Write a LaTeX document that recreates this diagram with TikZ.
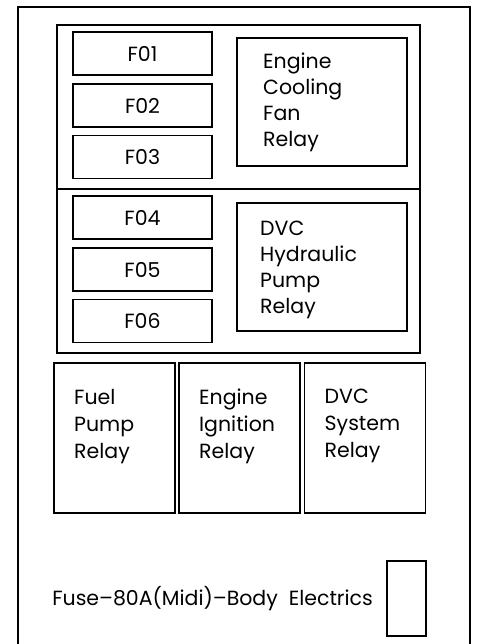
\documentclass[tikz,border=0pt]{standalone}
\usepackage{fontspec}
\setmainfont{Poppins}
\usepackage{tikz}
\usetikzlibrary{positioning}
\tikzset{box/.style={draw=black,line width=1.3pt,inner sep=0pt,outer sep=0pt},lbl/.style={anchor=north west,align=left,inner sep=0pt,font=\fontsize{20.5}{26}\selectfont}}
\begin{document}
\begin{tikzpicture}[x=1pt,y=-1pt,font=\fontsize{20.5}{26}\selectfont,fuse/.style={box,minimum width=139pt,minimum height=43pt},relay/.style={box,minimum width=170pt,minimum height=128pt},cell/.style={box,minimum width=121pt,minimum height=150pt}]
\useasboundingbox (0,0) rectangle (476,644);
\draw[line width=2.4pt] (18,645)--(18,7)--(470,7)--(470,645);
% upper panel with fuses and relays
\node[box,minimum width=363pt,minimum height=328pt] (panel) at (238.5,189) {};
\draw[line width=1.3pt] (panel.west |- 0,189)--(panel.east |- 0,189);
\foreach \n/\y in {1/53.5,2/105.5,3/157,4/217.5,5/269.5,6/321}
  \node[fuse] (f\n) at (142.5,\y) {F0\n};
\node[relay] (fan) at (322,102) {};
\node[lbl] at ([xshift=26pt,yshift=-15pt]fan.north west) {Engine\\Cooling\\Fan\\Relay};
\node[relay] (hyd) at (322,267) {};
\node[lbl] at ([xshift=23pt,yshift=-18pt]hyd.north west) {DVC\\Hydraulic\\Pump\\Relay};
% lower relays
\node[cell] (fuel) at (114.5,438) {};
\node[cell] (ign) at (239.5,438) {};
\node[cell] (sys) at (365,438) {};
\node[lbl,font=\fontsize{20.5}{27}\selectfont] at ([xshift=20pt,yshift=-26pt]fuel.north west) {Fuel\\Pump\\Relay};
\node[lbl,font=\fontsize{20.5}{27}\selectfont] at ([xshift=20pt,yshift=-26pt]ign.north west) {Engine\\Ignition\\Relay};
\node[lbl,font=\fontsize{20.5}{27}\selectfont] at ([xshift=20pt,yshift=-26pt]sys.north west) {DVC\\System\\Relay};
% midi fuse
\node[box,minimum width=39pt,minimum height=75pt] (midi) at (406.5,598.5) {};
\node[anchor=east,inner sep=0pt] (mlbl) at ([xshift=-14pt]midi.west) {Fuse--80A(Midi)--Body\ \ Electrics};
\end{tikzpicture}
\end{document}
